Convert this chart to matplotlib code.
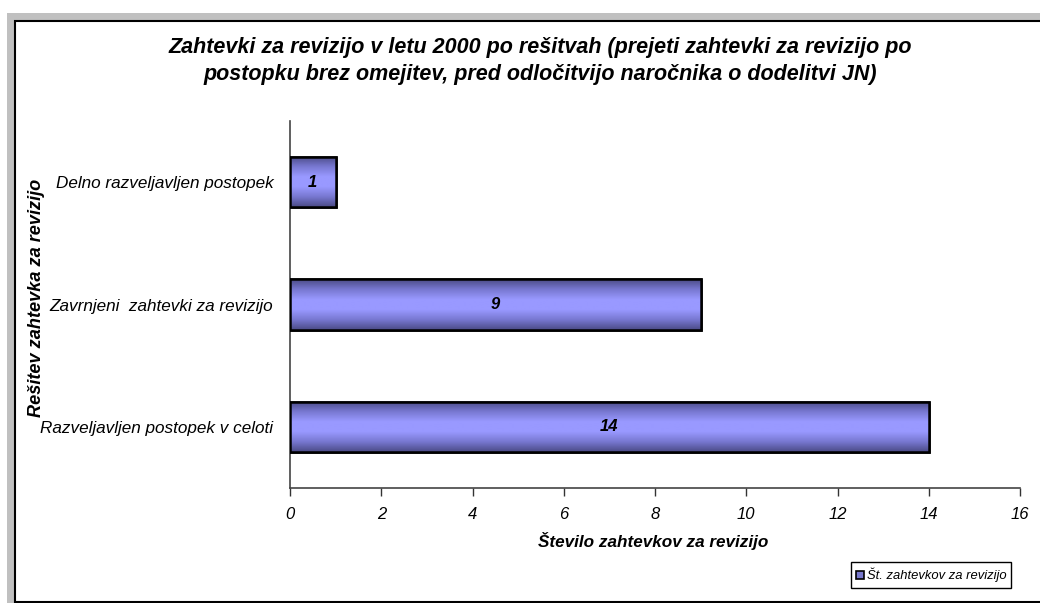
import numpy as np
import matplotlib
matplotlib.use("Agg")
import matplotlib.pyplot as plt
from matplotlib.patches import Rectangle
from matplotlib.colors import LinearSegmentedColormap
import matplotlib.transforms as mtransforms

categories = ["Razveljavljen postopek v celoti", "Zavrnjeni  zahtevki za revizijo", "Delno razveljavljen postopek"]
values = [14, 9, 1]
xticks = [0, 2, 4, 6, 8, 10, 12, 14, 16]
title = "Zahtevki za revizijo v letu 2000 po rešitvah (prejeti zahtevki za revizijo po\npostopku brez omejitev, pred odločitvijo naročnika o dodelitvi JN)"
xlabel = "Število zahtevkov za revizijo"
ylabel = "Rešitev zahtevka za revizijo"
legend_label = "Št. zahtevkov za revizijo"

plt.rcParams['font.family'] = ['Liberation Sans', 'DejaVu Sans']

W, H = 1040, 603
fig = plt.figure(figsize=(W / 100, H / 100), dpi=100)
fig.patch.set_facecolor("white")

def fx(px):
    return px / W
def fy(py):
    return 1 - py / H

# outer gray band and chart frame
fig.patches.append(Rectangle((fx(7), fy(603)), 1, fy(13) - fy(603),
                             transform=fig.transFigure, facecolor="#C0C0C0", edgecolor="none", zorder=0))
fig.patches.append(Rectangle((fx(15), fy(602)), fx(1040 - 15 + 5), fy(21) - fy(602),
                             transform=fig.transFigure, facecolor="white", edgecolor="black",
                             linewidth=1.5, zorder=1))

ax = fig.add_axes([fx(290), fy(488), fx(1020) - fx(290), fy(121) - fy(488)])
ax.set_facecolor("none")
ax.set_zorder(2)

ypos = np.arange(len(categories))
bh = 0.41
ax.set_xlim(0, 16)
ax.set_ylim(-0.5, len(categories) - 0.5)

cmap = LinearSegmentedColormap.from_list("barg", ["#4A4A85", "#7777D0", "#9999FF", "#9999FF", "#7777D0", "#4A4A85"])
grad = np.linspace(0, 1, 256).reshape(-1, 1)

bars = ax.barh(ypos, values, height=bh, color="#9999FF", edgecolor="black", linewidth=1.8, zorder=3)
for b, v, y in zip(bars, values, ypos):
    sh = Rectangle((b.get_x(), b.get_y()), b.get_width(), b.get_height(), facecolor="#BBBBBB",
                   edgecolor="none", zorder=2,
                   transform=ax.transData + mtransforms.ScaledTranslation(2 / 100, -2 / 100, fig.dpi_scale_trans))
    ax.add_patch(sh)
    im = ax.imshow(grad, aspect="auto", cmap=cmap, extent=[0, v, y - bh / 2, y + bh / 2],
                   zorder=3.5, interpolation="bilinear")
    im.set_clip_path(b)
    edge = Rectangle((b.get_x(), b.get_y()), b.get_width(), b.get_height(), facecolor="none",
                     edgecolor="black", linewidth=1.8, zorder=4)
    ax.add_patch(edge)
    ax.text(v / 2, y, str(v), ha="center", va="center", fontsize=12, fontweight="bold",
            fontstyle="italic", zorder=5)

ax.set_xlim(0, 16)
ax.set_ylim(-0.5, len(categories) - 0.5)
ax.set_xticks(xticks)
ax.set_xticklabels([str(t) for t in xticks], fontstyle="italic", fontsize=12)
ax.set_yticks(ypos)
ax.set_yticklabels(categories, fontstyle="italic", fontsize=12.3)
ax.tick_params(axis="y", length=0, pad=12)
ax.tick_params(axis="x", direction="out", length=6, width=1, pad=8, color="#333333")
for s in ["top", "right"]:
    ax.spines[s].set_visible(False)
ax.spines["left"].set_color("#444444")
ax.spines["bottom"].set_color("#444444")
ax.spines["left"].set_linewidth(1.2)
ax.spines["bottom"].set_linewidth(1.2)

fig.text(fx(540), fy(61), title, ha="center", va="center", fontsize=15.5, fontweight="bold",
         fontstyle="italic", linespacing=1.38)
fig.text(fx(653), fy(541), xlabel, ha="center", va="center", fontsize=12.3, fontweight="bold",
         fontstyle="italic")
fig.text(fx(37), fy(298), ylabel, ha="center", va="center", rotation=90, fontsize=13.1,
         fontweight="bold", fontstyle="italic")

# legend
lx0, lx1, ly0, ly1 = 851, 1011, 562, 588
fig.patches.append(Rectangle((fx(lx0), fy(ly1)), fx(lx1) - fx(lx0), fy(ly0) - fy(ly1),
                             transform=fig.transFigure, facecolor="white", edgecolor="black",
                             linewidth=1, zorder=3))
fig.patches.append(Rectangle((fx(856), fy(579)), fx(8), fy(571) - fy(579),
                             transform=fig.transFigure, facecolor="#7777CC", edgecolor="black",
                             linewidth=1.2, zorder=4))
fig.text(fx(867), fy(575), legend_label, ha="left", va="center", fontsize=9.4, fontstyle="italic",
         zorder=5)

fig.savefig("out.png", dpi=100)
